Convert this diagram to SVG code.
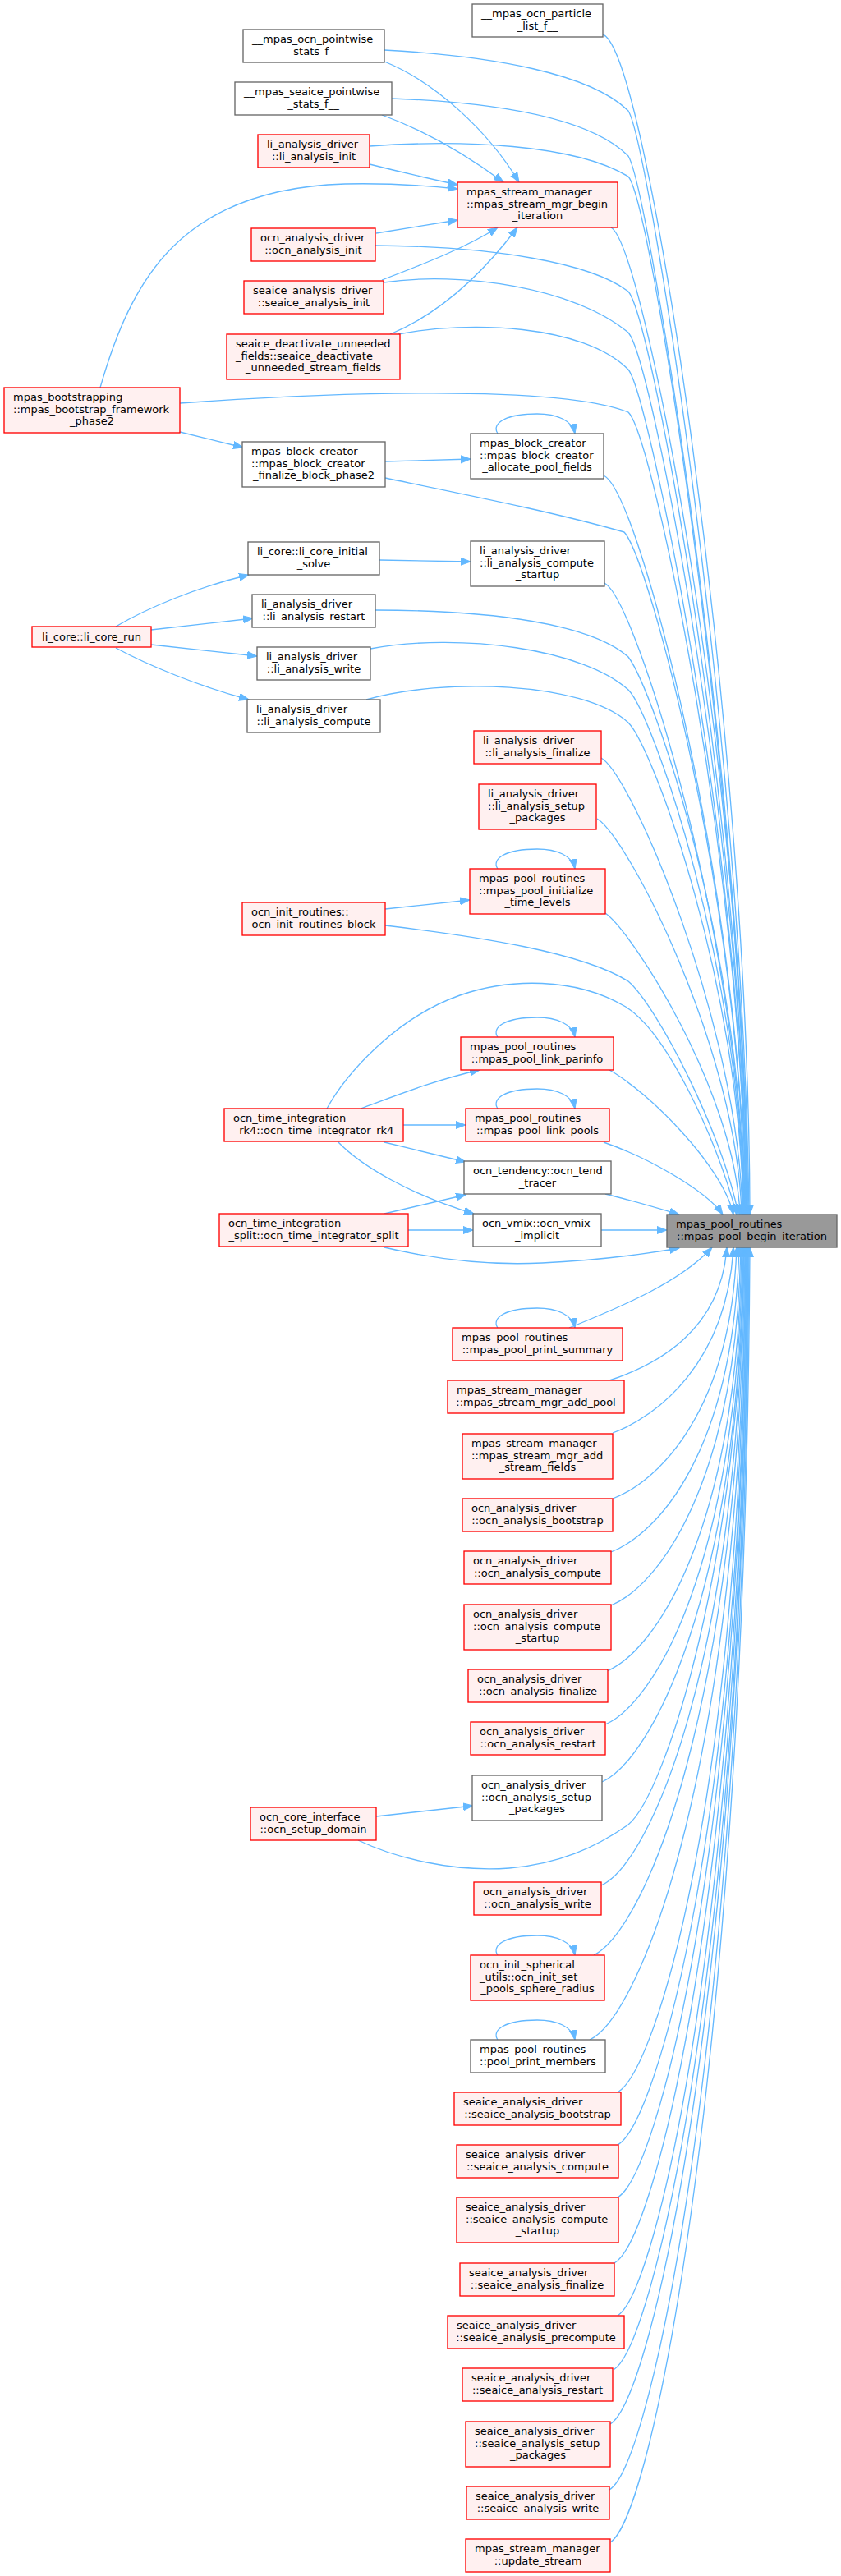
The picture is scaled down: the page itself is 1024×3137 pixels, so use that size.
<svg xmlns="http://www.w3.org/2000/svg" width="1024" height="3137" viewBox="0 0 1024 3137">
<style>
.r{fill:#fff0f0;stroke:#ff0000;stroke-width:1.33}
.g{fill:#ffffff;stroke:#666666;stroke-width:1.33}
.tg{fill:#999999;stroke:#666666;stroke-width:1.33}
text{font-family:"DejaVu Sans",sans-serif;font-size:13px;fill:#000}
.m{text-anchor:middle}
.e{fill:none;stroke:#63b8ff;stroke-width:1.33;marker-end:url(#ah)}
</style>
<defs>
<marker id="ah" markerWidth="14" markerHeight="11" refX="12" refY="5" orient="auto" markerUnits="userSpaceOnUse">
<path d="M0,0.5 L12,5 L0,9.5 z" fill="#63b8ff" stroke="#63b8ff" stroke-width="1"/>
</marker>
</defs>
<rect width="1024" height="3137" fill="#ffffff"/>
<g id="edges">
<path class="e" d="M734,42 C790,62 912,900 913,1479"/>
<path class="e" d="M744,277 C785,300 908,950 910,1479"/>
<path class="e" d="M735,579 C780,600 905,1100 907,1479"/>
<path class="e" d="M736,710 C775,730 903,1150 906,1479"/>
<path class="e" d="M732,923 C770,945 900,1250 904,1479"/>
<path class="e" d="M727,997 C765,1020 898,1280 903,1479"/>
<path class="e" d="M737,1112 C770,1135 895,1330 901,1479"/>
<path class="e" d="M742,1303 C790,1330 880,1420 893,1479"/>
<path class="e" d="M735,1391 C790,1410 860,1450 880,1479"/>
<path class="e" d="M737,1454 C770,1462 800,1471 827,1479"/>
<path class="e" d="M732,1498 L812,1498"/>
<path class="e" d="M468,61 C600,68 720,90 765,135 C790,175 905,900 912,1479"/>
<path class="e" d="M477,120 C610,125 720,145 765,190 C790,230 905,950 911,1479"/>
<path class="e" d="M450,178 C560,170 700,175 765,215 C795,250 905,980 910,1479"/>
<path class="e" d="M457,299 C600,300 720,320 765,355 C795,390 905,1000 909,1479"/>
<path class="e" d="M467,344 C560,330 700,350 765,405 C795,440 905,1020 909,1479"/>
<path class="e" d="M485,407 C570,390 710,395 765,450 C790,480 905,1040 908,1479"/>
<path class="e" d="M219,491 C400,478 680,468 765,502 C795,530 905,1060 908,1479"/>
<path class="e" d="M469,582 C580,605 680,625 760,648 C790,680 903,1100 907,1479"/>
<path class="e" d="M457,743 C600,743 720,760 765,800 C795,840 904,1150 906,1479"/>
<path class="e" d="M451,790 C560,770 710,790 765,840 C795,870 903,1180 905,1479"/>
<path class="e" d="M446,852 C540,825 710,830 765,880 C795,910 902,1200 905,1479"/>
<path class="e" d="M469,1127 C580,1140 710,1160 765,1195 C800,1225 880,1380 899,1479"/>
<path class="e" d="M398,1350 C420,1310 480,1240 560,1212 C620,1191 700,1190 760,1225 C810,1254 870,1380 897,1479"/>
<path class="e" d="M468,1519 C540,1536 600,1541 660,1538 C730,1535 780,1528 827,1520"/>
<path class="e" d="M436,2241 C480,2262 550,2280 620,2275 C680,2270 725,2250 765,2222 C810,2185 902,1900 906,1519"/>
<path class="e" d="M693,1617 C760,1590 830,1560 867,1519"/>
<path class="e" d="M742,1681 C800,1662 878,1620 885,1519"/>
<path class="e" d="M746,1745 C800,1725 885,1660 893,1519"/>
<path class="e" d="M746,1825 C800,1805 890,1720 897,1519"/>
<path class="e" d="M744,1890 C800,1868 893,1770 900,1519"/>
<path class="e" d="M744,1955 C800,1932 896,1810 902,1519"/>
<path class="e" d="M739,2035 C795,2012 898,1870 903,1519"/>
<path class="e" d="M737,2100 C795,2075 899,1910 904,1519"/>
<path class="e" d="M733,2170 C790,2145 900,1950 905,1519"/>
<path class="e" d="M732,2296 C790,2270 901,2030 906,1519"/>
<path class="e" d="M723,2381 C785,2350 902,2080 907,1519"/>
<path class="e" d="M718,2484 C780,2455 903,2150 908,1519"/>
<path class="e" d="M752,2548 C800,2520 903,2180 908,1519"/>
<path class="e" d="M752,2612 C800,2585 904,2220 909,1519"/>
<path class="e" d="M752,2676 C800,2648 904,2260 909,1519"/>
<path class="e" d="M748,2756 C798,2728 905,2300 910,1519"/>
<path class="e" d="M752,2820 C800,2790 905,2340 910,1519"/>
<path class="e" d="M747,2886 C797,2856 906,2380 911,1519"/>
<path class="e" d="M743,2952 C795,2920 906,2420 911,1519"/>
<path class="e" d="M742,3032 C795,3000 907,2460 912,1519"/>
<path class="e" d="M743,3096 C795,3065 908,2500 913,1519"/>
<path class="e" d="M468,75 C530,100 595,160 632,222"/>
<path class="e" d="M465,140 C520,160 570,190 613,222"/>
<path class="e" d="M450,200 C490,210 525,218 557,225"/>
<path class="e" d="M122,472 C160,340 220,230 420,224 C470,223 520,226 557,230"/>
<path class="e" d="M458,284 L557,268"/>
<path class="e" d="M465,341 C520,320 570,300 606,277"/>
<path class="e" d="M475,407 C540,380 590,330 630,277"/>
<path class="e" d="M219,526 L296,545"/>
<path class="e" d="M469,562 L573,559"/>
<path class="e" d="M141,763 C180,740 240,715 303,700"/>
<path class="e" d="M462,682 L573,684"/>
<path class="e" d="M184,767 L308,753"/>
<path class="e" d="M184,785 L313,799"/>
<path class="e" d="M141,789 C180,810 240,835 303,852"/>
<path class="e" d="M469,1107 L572,1096"/>
<path class="e" d="M439,1350 C480,1335 530,1315 584,1303"/>
<path class="e" d="M491,1370 L567,1370"/>
<path class="e" d="M468,1391 L567,1415"/>
<path class="e" d="M412,1391 C440,1420 500,1455 577,1478"/>
<path class="e" d="M468,1478 L567,1455"/>
<path class="e" d="M497,1498 L576,1498"/>
<path class="e" d="M458,2212 L576,2199"/>
<path class="e" d="M606,528 C598,516 615,504 654,504 C678,504 697,512 700,528"/>
<path class="e" d="M606,1058 C598,1046 615,1034 654,1034 C678,1034 697,1042 700,1058"/>
<path class="e" d="M606,1263 C598,1251 615,1239 654,1239 C678,1239 697,1247 700,1263"/>
<path class="e" d="M606,1350 C598,1338 615,1326 654,1326 C678,1326 697,1334 700,1350"/>
<path class="e" d="M606,1617 C598,1605 615,1593 654,1593 C678,1593 697,1601 700,1617"/>
<path class="e" d="M606,2381 C598,2369 615,2357 654,2357 C678,2357 697,2365 700,2381"/>
<path class="e" d="M606,2484 C598,2472 615,2460 654,2460 C678,2460 697,2468 700,2484"/>
</g>
<g id="n1"><rect class="g" x="575" y="5" width="159" height="40"/><text x="586" y="21">__mpas_ocn_particle</text><text class="m" x="654.5" y="35.5">_list_f__</text></g>
<g id="n2"><rect class="g" x="296" y="36" width="172" height="40"/><text x="307" y="52">__mpas_ocn_pointwise</text><text class="m" x="382" y="66.5">_stats_f__</text></g>
<g id="n3"><rect class="g" x="286" y="100" width="191" height="40"/><text x="297" y="116">__mpas_seaice_pointwise</text><text class="m" x="381.5" y="130.5">_stats_f__</text></g>
<g id="n4"><rect class="r" x="314" y="164" width="136" height="40"/><text x="325" y="180">li_analysis_driver</text><text class="m" x="382" y="194.5">::li_analysis_init</text></g>
<g id="n5"><rect class="r" x="557" y="222" width="195" height="55"/><text x="568" y="238">mpas_stream_manager</text><text x="568" y="252.5">::mpas_stream_mgr_begin</text><text class="m" x="654.5" y="267">_iteration</text></g>
<g id="n6"><rect class="r" x="306" y="278" width="151" height="40"/><text x="317" y="294">ocn_analysis_driver</text><text class="m" x="381.5" y="308.5">::ocn_analysis_init</text></g>
<g id="n7"><rect class="r" x="297" y="342" width="170" height="40"/><text x="308" y="358">seaice_analysis_driver</text><text class="m" x="382" y="372.5">::seaice_analysis_init</text></g>
<g id="n8"><rect class="r" x="276" y="407" width="211" height="55"/><text x="287" y="423">seaice_deactivate_unneeded</text><text x="287" y="437.5">_fields::seaice_deactivate</text><text class="m" x="381.5" y="452">_unneeded_stream_fields</text></g>
<g id="n9"><rect class="r" x="5" y="472" width="214" height="55"/><text x="16" y="488">mpas_bootstrapping</text><text x="16" y="502.5">::mpas_bootstrap_framework</text><text class="m" x="112" y="517">_phase2</text></g>
<g id="n10"><rect class="g" x="573" y="528" width="162" height="55"/><text x="584" y="544">mpas_block_creator</text><text x="584" y="558.5">::mpas_block_creator</text><text class="m" x="654" y="573">_allocate_pool_fields</text></g>
<g id="n11"><rect class="g" x="295" y="538" width="174" height="55"/><text x="306" y="554">mpas_block_creator</text><text x="306" y="568.5">::mpas_block_creator</text><text class="m" x="382" y="583">_finalize_block_phase2</text></g>
<g id="n12"><rect class="g" x="302" y="660" width="160" height="40"/><text x="313" y="676">li_core::li_core_initial</text><text class="m" x="382" y="690.5">_solve</text></g>
<g id="n13"><rect class="g" x="573" y="659" width="163" height="55"/><text x="584" y="675">li_analysis_driver</text><text x="584" y="689.5">::li_analysis_compute</text><text class="m" x="654.5" y="704">_startup</text></g>
<g id="n14"><rect class="g" x="307" y="724" width="150" height="40"/><text x="318" y="740">li_analysis_driver</text><text class="m" x="382" y="754.5">::li_analysis_restart</text></g>
<g id="n15"><rect class="r" x="39" y="763" width="145" height="25"/><text class="m" x="111.5" y="780">li_core::li_core_run</text></g>
<g id="n16"><rect class="g" x="313" y="788" width="138" height="40"/><text x="324" y="804">li_analysis_driver</text><text class="m" x="382" y="818.5">::li_analysis_write</text></g>
<g id="n17"><rect class="g" x="301" y="852" width="162" height="40"/><text x="312" y="868">li_analysis_driver</text><text class="m" x="382" y="882.5">::li_analysis_compute</text></g>
<g id="n18"><rect class="r" x="577" y="890" width="155" height="40"/><text x="588" y="906">li_analysis_driver</text><text class="m" x="654.5" y="920.5">::li_analysis_finalize</text></g>
<g id="n19"><rect class="r" x="583" y="955" width="143" height="55"/><text x="594" y="971">li_analysis_driver</text><text x="594" y="985.5">::li_analysis_setup</text><text class="m" x="654.5" y="1000">_packages</text></g>
<g id="n20"><rect class="r" x="572" y="1058" width="165" height="55"/><text x="583" y="1074">mpas_pool_routines</text><text x="583" y="1088.5">::mpas_pool_initialize</text><text class="m" x="654.5" y="1103">_time_levels</text></g>
<g id="n21"><rect class="r" x="295" y="1099" width="174" height="40"/><text x="306" y="1115">ocn_init_routines::</text><text class="m" x="382" y="1129.5">ocn_init_routines_block</text></g>
<g id="n22"><rect class="r" x="561" y="1263" width="186" height="40"/><text x="572" y="1279">mpas_pool_routines</text><text class="m" x="654" y="1293.5">::mpas_pool_link_parinfo</text></g>
<g id="n23"><rect class="r" x="273" y="1350" width="218" height="40"/><text x="284" y="1366">ocn_time_integration</text><text class="m" x="382" y="1380.5">_rk4::ocn_time_integrator_rk4</text></g>
<g id="n24"><rect class="r" x="567" y="1350" width="175" height="40"/><text x="578" y="1366">mpas_pool_routines</text><text class="m" x="654.5" y="1380.5">::mpas_pool_link_pools</text></g>
<g id="n25"><rect class="g" x="565" y="1414" width="179" height="40"/><text x="576" y="1430">ocn_tendency::ocn_tend</text><text class="m" x="654.5" y="1444.5">_tracer</text></g>
<g id="n26"><rect class="r" x="267" y="1478" width="230" height="40"/><text x="278" y="1494">ocn_time_integration</text><text class="m" x="382" y="1508.5">_split::ocn_time_integrator_split</text></g>
<g id="n27"><rect class="g" x="576" y="1478" width="156" height="40"/><text x="587" y="1494">ocn_vmix::ocn_vmix</text><text class="m" x="654" y="1508.5">_implicit</text></g>
<g id="target"><rect class="tg" x="812" y="1479" width="207" height="40"/><text x="823" y="1495">mpas_pool_routines</text><text class="m" x="915.5" y="1509.5">::mpas_pool_begin_iteration</text></g>
<g id="n28"><rect class="r" x="551" y="1617" width="207" height="40"/><text x="562" y="1633">mpas_pool_routines</text><text class="m" x="654.5" y="1647.5">::mpas_pool_print_summary</text></g>
<g id="n29"><rect class="r" x="545" y="1681" width="215" height="40"/><text x="556" y="1697">mpas_stream_manager</text><text class="m" x="652.5" y="1711.5">::mpas_stream_mgr_add_pool</text></g>
<g id="n30"><rect class="r" x="563" y="1746" width="183" height="55"/><text x="574" y="1762">mpas_stream_manager</text><text x="574" y="1776.5">::mpas_stream_mgr_add</text><text class="m" x="654.5" y="1791">_stream_fields</text></g>
<g id="n31"><rect class="r" x="563" y="1825" width="183" height="40"/><text x="574" y="1841">ocn_analysis_driver</text><text class="m" x="654.5" y="1855.5">::ocn_analysis_bootstrap</text></g>
<g id="n32"><rect class="r" x="565" y="1889" width="179" height="40"/><text x="576" y="1905">ocn_analysis_driver</text><text class="m" x="654.5" y="1919.5">::ocn_analysis_compute</text></g>
<g id="n33"><rect class="r" x="565" y="1954" width="179" height="55"/><text x="576" y="1970">ocn_analysis_driver</text><text x="576" y="1984.5">::ocn_analysis_compute</text><text class="m" x="654.5" y="1999">_startup</text></g>
<g id="n34"><rect class="r" x="570" y="2033" width="170" height="40"/><text x="581" y="2049">ocn_analysis_driver</text><text class="m" x="655" y="2063.5">::ocn_analysis_finalize</text></g>
<g id="n35"><rect class="r" x="573" y="2097" width="164" height="40"/><text x="584" y="2113">ocn_analysis_driver</text><text class="m" x="655" y="2127.5">::ocn_analysis_restart</text></g>
<g id="n36"><rect class="g" x="575" y="2162" width="158" height="55"/><text x="586" y="2178">ocn_analysis_driver</text><text x="586" y="2192.5">::ocn_analysis_setup</text><text class="m" x="654" y="2207">_packages</text></g>
<g id="n37"><rect class="r" x="305" y="2201" width="153" height="40"/><text x="316" y="2217">ocn_core_interface</text><text class="m" x="381.5" y="2231.5">::ocn_setup_domain</text></g>
<g id="n38"><rect class="r" x="577" y="2292" width="155" height="40"/><text x="588" y="2308">ocn_analysis_driver</text><text class="m" x="654.5" y="2322.5">::ocn_analysis_write</text></g>
<g id="n39"><rect class="r" x="573" y="2381" width="163" height="55"/><text x="584" y="2397">ocn_init_spherical</text><text x="584" y="2411.5">_utils::ocn_init_set</text><text class="m" x="654.5" y="2426">_pools_sphere_radius</text></g>
<g id="n40"><rect class="g" x="573" y="2484" width="164" height="40"/><text x="584" y="2500">mpas_pool_routines</text><text class="m" x="655" y="2514.5">::pool_print_members</text></g>
<g id="n41"><rect class="r" x="553" y="2548" width="203" height="40"/><text x="564" y="2564">seaice_analysis_driver</text><text class="m" x="654.5" y="2578.5">::seaice_analysis_bootstrap</text></g>
<g id="n42"><rect class="r" x="556" y="2612" width="197" height="40"/><text x="567" y="2628">seaice_analysis_driver</text><text class="m" x="654.5" y="2642.5">::seaice_analysis_compute</text></g>
<g id="n43"><rect class="r" x="556" y="2676" width="197" height="55"/><text x="567" y="2692">seaice_analysis_driver</text><text x="567" y="2706.5">::seaice_analysis_compute</text><text class="m" x="654.5" y="2721">_startup</text></g>
<g id="n44"><rect class="r" x="560" y="2756" width="188" height="40"/><text x="571" y="2772">seaice_analysis_driver</text><text class="m" x="654" y="2786.5">::seaice_analysis_finalize</text></g>
<g id="n45"><rect class="r" x="545" y="2820" width="215" height="40"/><text x="556" y="2836">seaice_analysis_driver</text><text class="m" x="652.5" y="2850.5">::seaice_analysis_precompute</text></g>
<g id="n46"><rect class="r" x="563" y="2884" width="183" height="40"/><text x="574" y="2900">seaice_analysis_driver</text><text class="m" x="654.5" y="2914.5">::seaice_analysis_restart</text></g>
<g id="n47"><rect class="r" x="567" y="2949" width="176" height="55"/><text x="578" y="2965">seaice_analysis_driver</text><text x="578" y="2979.5">::seaice_analysis_setup</text><text class="m" x="655" y="2994">_packages</text></g>
<g id="n48"><rect class="r" x="568" y="3028" width="174" height="40"/><text x="579" y="3044">seaice_analysis_driver</text><text class="m" x="655" y="3058.5">::seaice_analysis_write</text></g>
<g id="n49"><rect class="r" x="567" y="3092" width="176" height="40"/><text x="578" y="3108">mpas_stream_manager</text><text class="m" x="655" y="3122.5">::update_stream</text></g>
</svg>
